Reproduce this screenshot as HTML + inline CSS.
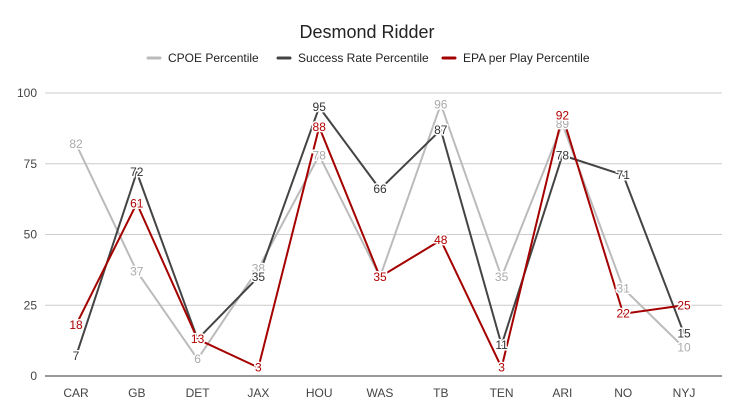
<!DOCTYPE html>
<html><head><meta charset="utf-8"><style>body{margin:0;background:#fff}svg{display:block;font-family:"Liberation Sans",Arial,sans-serif}</style></head>
<body>
<svg id="c" width="734" height="418"></svg>
<script>
const categories=["CAR","GB","DET","JAX","HOU","WAS","TB","TEN","ARI","NO","NYJ"];
const cpoe=[82,37,6,38,78,35,96,35,89,31,10];
const success=[7,72,13,35,95,66,87,11,78,71,15];
const epa=[18,61,13,3,88,35,48,3,92,22,25];
const yTicks=[0,25,50,75,100];
const NS="http://www.w3.org/2000/svg";
const svg=document.getElementById('c');
const x0=76,dx=60.8,yb=376,yt=93;
const xs=i=>x0+i*dx;
const ys=v=>yb-(v/100)*(yb-yt);
function mk(t,a,p){const e=document.createElementNS(NS,t);for(const k in a)e.setAttribute(k,a[k]);(p||svg).appendChild(e);return e;}
const title=mk('text',{x:367,y:38,'text-anchor':'middle','font-size':18,fill:'#222'});title.textContent='Desmond Ridder';


yTicks.forEach(t=>{
 const l=mk('line',{x1:45,x2:722,y1:ys(t),y2:ys(t),stroke:t===0?'#333':'#ccc','stroke-width':1});
 
 
 const tx=mk('text',{x:37,y:ys(t)+4,'text-anchor':'end','font-size':12,fill:'#444'});tx.textContent=t;
 
 
});
categories.forEach((c,i)=>{
 const tx=mk('text',{x:xs(i),y:397,'text-anchor':'middle','font-size':12,fill:'#444'});tx.textContent=c;
 
 
});
const series=[["CPOE Percentile",cpoe,"#bbbbbb","#aaaaaa"],["Success Rate Percentile",success,"#444444","#333333"],["EPA per Play Percentile",epa,"#a50000","#b00000"]];
const legX=[148,278,443];
series.forEach((s,k)=>{
 const g=mk('g',{});
 
 
 mk('line',{x1:legX[k],x2:legX[k]+12,y1:58,y2:58,stroke:s[2],'stroke-width':3,'stroke-linecap':'round'},g);
 const t=mk('text',{x:legX[k]+20,y:62,'font-size':12,fill:'#222'},g);t.textContent=s[0];
});
series.forEach((s,k)=>{
 const p=mk('polyline',{points:s[1].map((v,i)=>xs(i)+','+ys(v)).join(' '),fill:'none',stroke:s[2],'stroke-width':2,'stroke-linejoin':'round'});
 
 
});
series.forEach((s,k)=>{
 s[1].forEach((v,i)=>{
  const t=mk('text',{x:xs(i),y:ys(v)+4,'text-anchor':'middle','font-size':12,fill:s[3],stroke:'#fff','stroke-width':3,'paint-order':'stroke'});t.textContent=v;
  
  
 });
});
</script>
</body></html>
